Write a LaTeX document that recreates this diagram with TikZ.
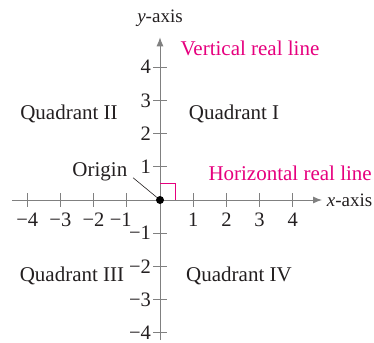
\documentclass[tikz,border=0pt]{standalone}
\usepackage{fontspec}
\setmainfont{Liberation Serif}
\usetikzlibrary{arrows.meta,positioning}
\definecolor{axgray}{RGB}{128,128,128}
\definecolor{txtcol}{RGB}{35,31,32}
\definecolor{pinkcol}{RGB}{230,0,126}

\begin{document}
\begin{tikzpicture}[x=33.2pt, y=33.2pt,
  axis/.style={axgray, line width=0.9pt},
  axarrow/.style={axis, -{Latex[length=9pt, width=7pt]}},
  tick/.style={axgray, line width=0.9pt},
  num/.style={txtcol, font=\fontsize{20.5}{22}\selectfont, inner sep=1pt},
  quad/.style={txtcol, font=\fontsize{21}{24}\selectfont, inner sep=0pt},
  axlab/.style={txtcol, font=\fontsize{19}{22}\selectfont, inner sep=0pt},
  pinklab/.style={pinkcol, font=\fontsize{21}{24}\selectfont, inner sep=0pt},
  dot/.style={circle, fill=black, inner sep=0pt, minimum size=8pt},
]
\useasboundingbox (-4.819,-4.277) rectangle (6.446,6.024);

% Axes
\coordinate (xL) at (-4.46,0);
\coordinate (xR) at (4.88,0);
\coordinate (yB) at (0,-4.22);
\coordinate (yT) at (0,4.9);
\draw[axarrow] (xL) -- (xR);
\draw[axarrow] (yB) -- (yT);
\node[axlab, anchor=west] (xlab) at (5.02,0) {\textit{x}-axis};
\node[axlab] (ylab) at (0,5.48) {\textit{y}-axis};

% Ticks and numbers
\foreach \i/\t in {1/1,2/2,3/3,4/4,-1/−1,-2/−2,-3/−3,-4/−4} {
  \draw[tick] (\i,-0.2) -- (\i,0.2);
  \draw[tick] (-0.2,\i) -- (0.2,\i);
  \node[num, anchor=east] (ny\i) at (-0.24,\i) {\t};
}
\foreach \i/\t in {1/1,2/2,3/3,4/4,-2/−2,-3/−3,-4/−4} {
  \node[num] (nx\i) at (\i,-0.6) {\t};
}
\node[num] (nx-1) at (-1.18,-0.6) {−1};

% Right angle
\draw[pinkcol, line width=0.9pt] (0,0.5) -- (0.46,0.5) -- (0.46,0);

% Origin
\node[dot] (O) at (0,0) {};
\node[quad] (orig) at (-1.81,0.86) {Origin};
\draw[txtcol, line width=0.6pt] (-0.81,0.67) -- (O);

% Quadrants
\node[quad] (q1) at (2.23,2.59) {Quadrant I};
\node[quad] (q2) at (-2.74,2.59) {Quadrant II};
\node[quad] (q3) at (-2.65,-2.29) {Quadrant III};
\node[quad] (q4) at (2.38,-2.29) {Quadrant IV};

% Real line labels
\node[pinklab] (vrl) at (2.71,4.58) {Vertical real line};
\node[pinklab] (hrl) at (3.92,0.81) {Horizontal real line};

\end{tikzpicture}
\end{document}
